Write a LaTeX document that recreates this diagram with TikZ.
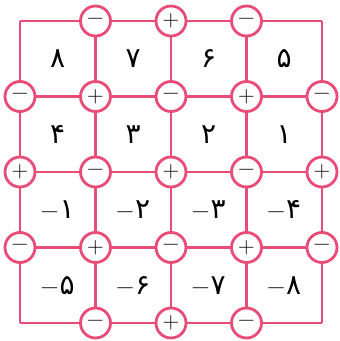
\documentclass[tikz,border=0pt]{standalone}
\usepackage{fontspec}
\newfontfamily\farsifont[Script=Arabic]{DejaVu Sans}
\usetikzlibrary{positioning}
\definecolor{gridpink}{RGB}{234,76,120}
\newcommand{\negsign}{{\fontsize{25}{25}\selectfont −}\kern1pt}

\begin{document}
\begin{tikzpicture}[x=1pt, y=-1pt,
            gridline/.style={draw=gridpink, line width=2.6pt},
            sign/.style={draw=gridpink, line width=2.8pt, circle, fill=white, minimum size=30pt, inner sep=0pt, font=\fontsize{23}{23}\selectfont},
            cellnum/.style={font=\fontsize{28}{32}\selectfont}
        ]
        \useasboundingbox (0,0) rectangle (340,341);

        % Gitterpunkte
        \coordinate (g00) at (20,21);   \coordinate (g10) at (95.5,21);   \coordinate (g20) at (171,21);   \coordinate (g30) at (246.5,21);   \coordinate (g40) at (322,21);
        \coordinate (g01) at (20,96.5); \coordinate (g11) at (95.5,96.5); \coordinate (g21) at (171,96.5); \coordinate (g31) at (246.5,96.5); \coordinate (g41) at (322,96.5);
        \coordinate (g02) at (20,172);  \coordinate (g12) at (95.5,172);  \coordinate (g22) at (171,172);  \coordinate (g32) at (246.5,172);  \coordinate (g42) at (322,172);
        \coordinate (g03) at (20,247.5);\coordinate (g13) at (95.5,247.5);\coordinate (g23) at (171,247.5);\coordinate (g33) at (246.5,247.5);\coordinate (g43) at (322,247.5);
        \coordinate (g04) at (20,323);  \coordinate (g14) at (95.5,323);  \coordinate (g24) at (171,323);  \coordinate (g34) at (246.5,323);  \coordinate (g44) at (322,323);

        % Linien
        \draw[gridline] (g00) -- (g40);
        \draw[gridline] (g01) -- (g41);
        \draw[gridline] (g02) -- (g42);
        \draw[gridline] (g03) -- (g43);
        \draw[gridline] (g04) -- (g44);
        \draw[gridline] (g00) -- (g04);
        \draw[gridline] (g10) -- (g14);
        \draw[gridline] (g20) -- (g24);
        \draw[gridline] (g30) -- (g34);
        \draw[gridline] (g40) -- (g44);

        % Vorzeichen
        \node[sign] (s10) at (g10) {−};
        \node[sign] (s20) at (g20) {+};
        \node[sign] (s30) at (g30) {−};
        \node[sign] (s01) at (g01) {−};
        \node[sign] (s11) at (g11) {+};
        \node[sign] (s21) at (g21) {−};
        \node[sign] (s31) at (g31) {+};
        \node[sign] (s41) at (g41) {−};
        \node[sign] (s02) at (g02) {+};
        \node[sign] (s12) at (g12) {−};
        \node[sign] (s22) at (g22) {+};
        \node[sign] (s32) at (g32) {−};
        \node[sign] (s42) at (g42) {+};
        \node[sign] (s03) at (g03) {−};
        \node[sign] (s13) at (g13) {+};
        \node[sign] (s23) at (g23) {−};
        \node[sign] (s33) at (g33) {+};
        \node[sign] (s43) at (g43) {−};
        \node[sign] (s14) at (g14) {−};
        \node[sign] (s24) at (g24) {+};
        \node[sign] (s34) at (g34) {−};

        % Zahlen
        \node[cellnum] (n8) at (57.75,59) {\farsifont ۸};
        \node[cellnum] (n7) at (133.25,59) {\farsifont ۷};
        \node[cellnum] (n6) at (208.75,59) {\farsifont ۶};
        \node[cellnum] (n5) at (284.25,59) {\farsifont ۵};
        \node[cellnum] (n4) at (57.75,134.25) {\farsifont ۴};
        \node[cellnum] (n3) at (133.25,134.25) {\farsifont ۳};
        \node[cellnum] (n2) at (208.75,134.25) {\farsifont ۲};
        \node[cellnum] (n1) at (284.25,134.25) {\farsifont ۱};
        \node[cellnum] (m1) at (57.75,209.75) {\negsign{\farsifont ۱}};
        \node[cellnum] (m2) at (133.25,209.75) {\negsign{\farsifont ۲}};
        \node[cellnum] (m3) at (208.75,209.75) {\negsign{\farsifont ۳}};
        \node[cellnum] (m4) at (284.25,209.75) {\negsign{\farsifont ۴}};
        \node[cellnum] (m5) at (57.75,285.25) {\negsign{\farsifont ۵}};
        \node[cellnum] (m6) at (133.25,285.25) {\negsign{\farsifont ۶}};
        \node[cellnum] (m7) at (208.75,285.25) {\negsign{\farsifont ۷}};
        \node[cellnum] (m8) at (284.25,285.25) {\negsign{\farsifont ۸}};

    \end{tikzpicture}
\end{document}
